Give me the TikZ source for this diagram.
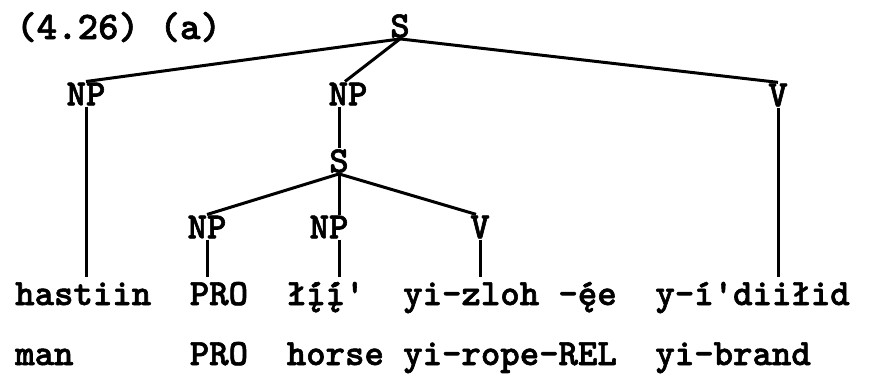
\documentclass[tikz,border=0pt]{standalone}
\usepackage{fontspec}
\usetikzlibrary{positioning, calc}
\newfontfamily\typer[FakeBold=1.6]{lmmonolt10-bold.otf}
\newcommand\tw{\fontsize{37}{42}\selectfont\typer}

\begin{document}
\begin{tikzpicture}[
        x=1pt, y=-1pt,
        lab/.style={font=\tw, inner sep=1pt},
        word/.style={font=\tw, anchor=base west, inner sep=0pt},
        branch/.style={line width=3pt}
        ]
        \useasboundingbox (0,0) rectangle (869,381);

        % number of the example
        \node[word, font=\fontsize{39}{42}\selectfont\typer] (title) at (16,39) {(4.26) (a)};

        % upper tree
        \node[lab] (S) at (400,26) {S};
        \node[lab] (NPman) at (86,94) {NP};
        \node[lab] (NPrel) at (348,94) {NP};
        \node[lab] (Vbrand) at (778,95) {V};

        % relative clause
        \node[lab] (Srel) at (339,161) {S};
        \node[lab] (NPpro) at (207,227) {NP};
        \node[lab] (NPhorse) at (329,227) {NP};
        \node[lab] (Vrope) at (480,227) {V};

        % words, one column is 19.4pt
        \node[word] (hastiin) at ({15+19.4*0},305) {hastiin};
        \node[word] (pro) at ({15+19.4*9},305) {PRO};
        \node[word] (lii) at ({15+19.4*14},305) {łį́į́'};
        \node[word] (zloh) at ({15+19.4*20},305) {yi-zloh};
        \node[word] (ee) at ({15+19.4*28},305) {-ę́e};
        \node[word] (diilid) at ({15+19.4*33},305) {y-í'diiłid};

        % glosses
        \node[word] (man) at ({15+19.4*0},365) {man};
        \node[word] (gpro) at ({15+19.4*9},365) {PRO};
        \node[word] (horse) at ({15+19.4*14},365) {horse};
        \node[word] (rope) at ({15+19.4*20},365) {yi-rope-REL};
        \node[word] (brand) at ({15+19.4*33},365) {yi-brand};

        \draw[branch] (S.south) -- (NPman.north);
        \draw[branch] (S.south) -- ($(NPrel.north)+(-3,0)$);
        \draw[branch] (S.south) -- (Vbrand.north);
        \draw[branch] (Srel.north |- NPrel.south) -- (Srel.north);
        \draw[branch] (Srel.south) -- (NPpro.north);
        \draw[branch] (Srel.south) -- (Srel.south |- NPhorse.north);
        \draw[branch] (Srel.south) -- ($(Vrope.north)+(-4,0)$);

        \draw[branch] (NPman.south) -- ($(NPman |- hastiin.north)+(0,-5)$);
        \draw[branch] (NPpro.south) -- ($(NPpro |- pro.north)+(0,-5)$);
        \draw[branch] (Srel |- NPhorse.south) -- ($(Srel |- lii.north)+(0,-5)$);
        \draw[branch] (Vrope.south) -- ($(Vrope |- zloh.north)+(0,-5)$);
        \draw[branch] (Vbrand.south) -- ($(Vbrand |- diilid.north)+(0,-5)$);
    \end{tikzpicture}
\end{document}
